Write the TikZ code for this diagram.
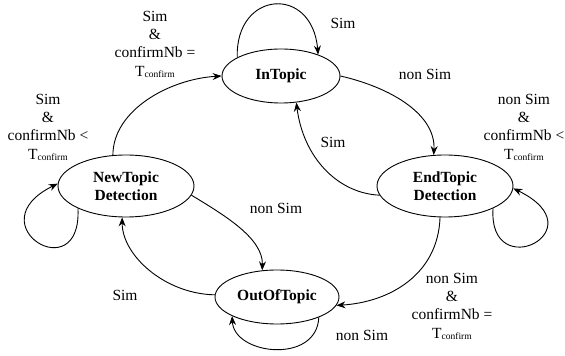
\documentclass[tikz,border=0pt]{standalone}
\usepackage{fontspec}
\setmainfont{Liberation Serif}
\usetikzlibrary{shapes.geometric,arrows.meta}
\newcommand{\Tconf}{T{\fontsize{9.5}{10}\selectfont\raisebox{-1pt}{confirm}}}

\begin{document}
\begin{tikzpicture}[x=1pt,y=1pt,
  state/.style={ellipse,draw,line width=0.9pt,inner sep=0pt,align=center,
    font=\fontsize{15.5}{17.5}\selectfont\bfseries},
  lbl/.style={inner sep=0pt,align=center,font=\fontsize{15.5}{18.3}\selectfont},
  >={Stealth[length=9pt,width=7pt,inset=3pt]}]
\useasboundingbox (0,0) rectangle (565,356);

% states
\node[state,minimum width=118pt,minimum height=54pt] (intopic) at (281,280) {InTopic};
\node[state,minimum width=136pt,minimum height=62pt] (newtopic) at (126,170) {NewTopic\\Detection};
\node[state,minimum width=136pt,minimum height=62pt] (endtopic) at (445,170) {EndTopic\\Detection};
\node[state,minimum width=124pt,minimum height=54pt] (outtopic) at (277,59) {OutOfTopic};

% transitions
\draw[->,line width=0.9pt] (intopic.157) .. controls +(-2,67) and +(-6,70) .. (intopic.30);
\draw[->,line width=0.9pt] (intopic.0) .. controls +(52,-12) and +(2,40) .. (endtopic.110);
\draw[->,line width=0.9pt] (endtopic.188) .. controls +(-42,2) and +(7,-55) .. (intopic.-60);
\draw[->,line width=0.9pt] (endtopic.335) .. controls +(-5,-77) and +(86,-42) .. (endtopic.358);
\draw[->,line width=0.9pt] (endtopic.261) .. controls +(-2,-58) and +(52,3) .. (outtopic.352);
\draw[->,line width=0.9pt] (outtopic.334) .. controls +(-2,-47) and +(2,-39) .. (outtopic.203);
\draw[->,line width=0.9pt] (outtopic.178) .. controls +(-50,1) and +(0,-38) .. (newtopic.263);
\draw[->,line width=0.9pt] (newtopic.352) .. controls +(33,-20) and +(1,32) .. (outtopic.119);
\draw[->,line width=0.9pt] (newtopic.205) .. controls +(4,-82) and +(-83,-41) .. (newtopic.178);
\draw[->,line width=0.9pt] (newtopic.113) .. controls +(0,45) and +(-52,-3) .. (intopic.180);

% labels
\node[lbl] (l1) at (343,333) {Sim};
\node[lbl] (l2) at (425,282) {non Sim};
\node[lbl] (l3) at (333,214) {Sim};
\node[lbl] (l4) at (524,229) {non Sim\\\&\\confirmNb <\\\Tconf};
\node[lbl] (l5) at (452,50) {non Sim\\\&\\confirmNb =\\\Tconf};
\node[lbl] (l6) at (362,21) {non Sim};
\node[lbl] (l7) at (125,61) {Sim};
\node[lbl] (l8) at (276,148) {non Sim};
\node[lbl] (l9) at (48,229) {Sim\\\&\\confirmNb <\\\Tconf};
\node[lbl] (l10) at (155,312) {Sim\\\&\\confirmNb =\\\Tconf};
\end{tikzpicture}
\end{document}
